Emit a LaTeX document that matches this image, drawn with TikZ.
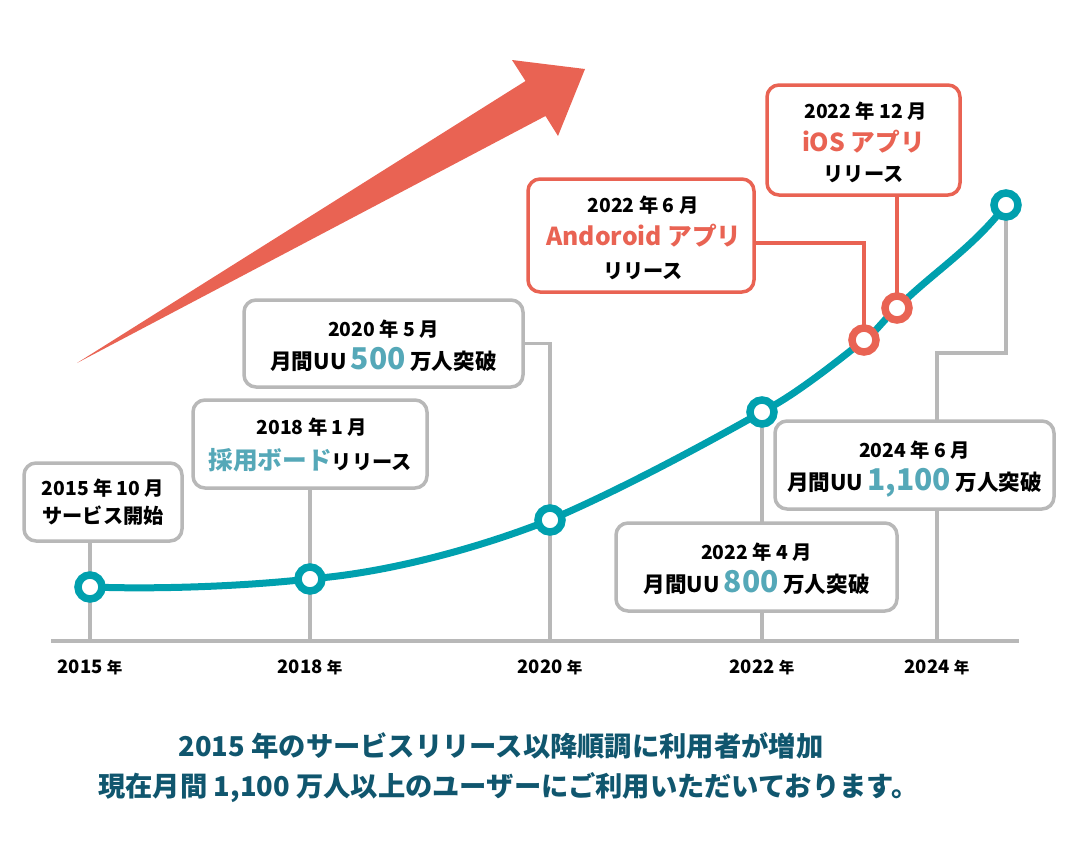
\documentclass[tikz,border=0pt]{standalone}
\usepackage{fontspec}
\setmainfont{Noto Sans CJK JP}
\usetikzlibrary{backgrounds}

\definecolor{linegray}{HTML}{B8B8B8}
\definecolor{curveteal}{HTML}{00A0AE}
\definecolor{accentred}{HTML}{E96353}
\definecolor{softteal}{HTML}{55A8B8}
\definecolor{notedark}{HTML}{10566E}

\newcommand{\bignum}[1]{\smash{\fontsize{30}{28}\selectfont\color{softteal}#1}}
\newcommand{\bigword}[2][softteal]{\smash{\fontsize{24.7}{28}\selectfont\color{#1}#2}}
\newcommand{\mainline}[1]{{\fontsize{20.2}{28}\selectfont #1}}
\newcommand{\uuline}[1]{{\fontsize{21.6}{28}\selectfont #1}}
\newcommand{\smallnen}{{\fontsize{15.5}{28}\selectfont 年}}
\newcommand{\topdrop}[1]{\rule{0pt}{#1pt}}

\tikzset{
	graybox/.style={draw=linegray, line width=3.5, fill=white, rounded corners=12,
		align=center, inner sep=0, font=\fontsize{19.3}{33}\selectfont\bfseries},
	redbox/.style={graybox, draw=accentred},
	graydot/.style={circle, draw=curveteal, line width=7.5, fill=white, inner sep=0,
		outer sep=0, minimum size=24},
	reddot/.style={graydot, draw=accentred},
	yearlabel/.style={font=\fontsize{18.5}{22}\selectfont\bfseries, inner sep=0},
	noteline/.style={font=\fontsize{27.3}{32}\selectfont\bfseries, text=notedark, inner sep=0},
	grayline/.style={draw=linegray, line width=3.2},
	redline/.style={draw=accentred, line width=3.2}
}

\begin{document}
\begin{tikzpicture}[x=1pt, y=-1pt]
	\useasboundingbox (0,0) rectangle (1074,857);

	\fill [accentred] (77,363) -- (525.5,81) -- (512,60) -- (585,69)
		-- (558,136) -- (545.5,116) -- cycle;

	\coordinate (axisleft) at (51,641);
	\coordinate (axisright) at (1019,641);
	\coordinate (bendend) at (937,353);
	\coordinate (bendred) at (864,243);

	\node [graydot] (dot2015) at (90,587) {};
	\node [graydot] (dot2018) at (310,579) {};
	\node [graydot] (dot2020) at (550,520) {};
	\node [graydot] (dot2022) at (762,412) {};
	\node [reddot] (dotandroid) at (864,340) {};
	\node [reddot] (dotios) at (897,308) {};
	\node [graydot] (dotend) at (1006,205) {};

	\node [graybox, minimum width=158, minimum height=78, font=\fontsize{19.3}{28}\selectfont\bfseries]
		(box2015) at (103,502)
		{2015 年 10 月\\\mainline{サービス開始}};
	\node [graybox, minimum width=234, minimum height=88] (box2018) at (310,444)
		{\hspace*{4pt}2018 年 1 月\\[2pt]\bigword{採用ボード}\mainline{リリース}};
	\node [graybox, minimum width=279, minimum height=87] (box2020) at (383.5,343.5)
		{\topdrop{21}2020 年 5 月\\\uuline{月間UU} \bignum{500} \uuline{万人突破}};
	\node [redbox, minimum width=226, minimum height=113] (boxandroid) at (641,235.5)
		{\topdrop{21}\hspace*{4pt}2022 年 6 月\\\hspace*{6pt}\bigword[accentred]{Andoroid アプリ}\\\hspace*{4pt}\mainline{リリース}};
	\node [redbox, minimum width=193, minimum height=110] (boxios) at (863.5,140)
		{\topdrop{22}\hspace*{4pt}2022 年 12 月\\\bigword[accentred]{iOS アプリ}\\[-3pt]\mainline{リリース}};
	\node [graybox, minimum width=281, minimum height=88] (box2022) at (756.5,567)
		{\topdrop{21}2022 年 4 月\\\uuline{月間UU} \bignum{800} \uuline{万人突破}};
	\node [graybox, minimum width=279, minimum height=88] (box2024) at (914.5,465)
		{\topdrop{21}2024 年 6 月\\\uuline{月間UU} \bignum{1,100} \uuline{万人突破}};

	\node [yearlabel] (year2015) at (90,667) {2015 \smallnen};
	\node [yearlabel] (year2018) at (310,667) {2018 \smallnen};
	\node [yearlabel] (year2020) at (550,667) {2020 \smallnen};
	\node [yearlabel] (year2022) at (762,667) {2022 \smallnen};
	\node [yearlabel] (year2024) at (937,667) {2024 \smallnen};

	\node [noteline] (noteone) at (501,746) {2015 年のサービスリリース以降順調に利用者が増加};
	\node [noteline] (notetwo) at (508.5,788) {現在月間 1,100 万人以上のユーザーにご利用いただいております。};

	\begin{scope}[on background layer]
		\draw [grayline] (axisleft) -- (axisright);
		\draw [grayline] (box2015.south -| dot2015) -- (dot2015 |- axisleft);
		\draw [grayline] (box2018.south -| dot2018) -- (dot2018 |- axisleft);
		\draw [grayline] (box2020.east) -| (dot2020 |- axisleft);
		\draw [grayline] (dot2022) -- (dot2022 |- axisleft);
		\draw [grayline] (dotend) |- (bendend) -- (bendend |- axisleft);
		\draw [redline] (boxandroid.east |- bendred) -- (bendred) -- (dotandroid);
		\draw [redline] (boxios.south -| dotios) -- (dotios);
		\draw [line width=7, draw=curveteal] (dot2015)
			.. controls (163,589) and (237,586.3) .. (dot2018)
			.. controls (390,571) and (470,550.4) .. (dot2020)
			.. controls (620.7,488.9) and (691.3,451.6) .. (dot2022)
			.. controls (796,393) and (830,367.2) .. (dotandroid)
			.. controls (875,331.2) and (886,318.5) .. (dotios)
			.. controls (933.3,273.5) and (969.7,248.6) .. (dotend);
	\end{scope}
\end{tikzpicture}
\end{document}
